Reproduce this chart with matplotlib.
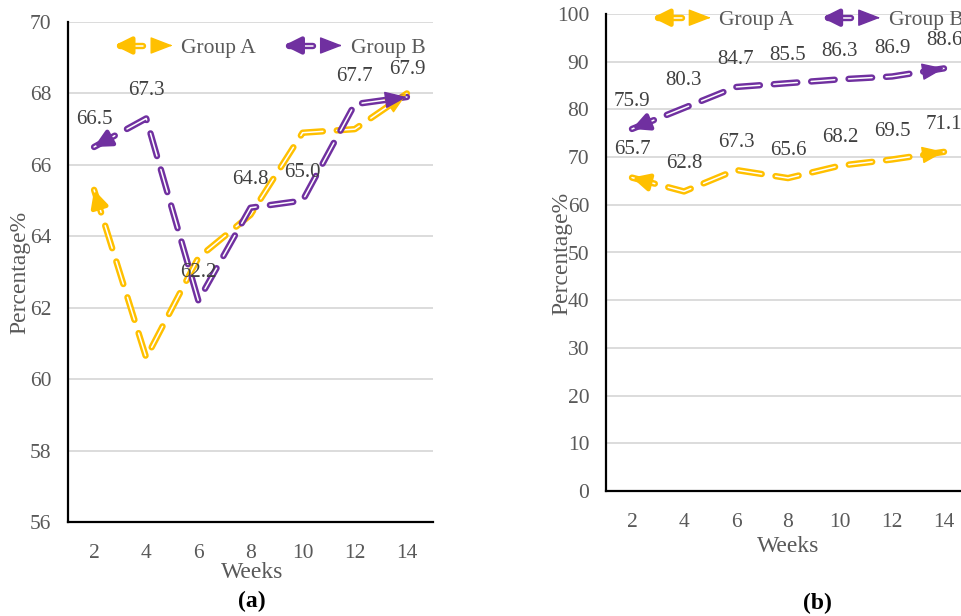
import numpy as np
import matplotlib
matplotlib.use("Agg")
import matplotlib.pyplot as plt
import matplotlib.patheffects as pe
from matplotlib.legend_handler import HandlerBase
from matplotlib.lines import Line2D
from matplotlib.patches import FancyArrowPatch

plt.rcParams["font.family"] = ["Liberation Serif", "DejaVu Serif"]
plt.rcParams["lines.scale_dashes"] = False

weeks = [2, 4, 6, 8, 10, 12, 14]

# panel (a)
a_group_a = [65.3, 60.6, 63.4, 64.6, 66.9, 67.0, 68.0]
a_group_b = [66.5, 67.3, 62.2, 64.8, 65.0, 67.7, 67.9]

# panel (b)
b_group_a = [65.7, 62.8, 67.3, 65.6, 68.2, 69.5, 71.1]
b_group_b = [75.9, 80.3, 84.7, 85.5, 86.3, 86.9, 88.6]

gold = "#FFC000"
purple = "#7030A0"
grey = "#595959"
lab_grey = "#404040"

DPI = 100
LW = 1.1
STROKE = 4.6
DASH = (17, 10)
START = "-|>,head_length=0.5,head_width=0.25"
END = "-|>,head_length=0.7,head_width=0.27"


def fx(color):
    return [pe.Stroke(linewidth=STROKE, foreground=color, capstyle="round"), pe.Normal()]


def draw_series(ax, x, y, color):
    ax.plot(x, y, color="white", lw=LW, dashes=DASH, dash_capstyle="round",
            solid_capstyle="round", path_effects=fx(color), zorder=3)
    pts = ax.transData.transform(np.column_stack([x, y]))
    # arrow head at first point, pointing away from the line
    d = pts[0] - pts[1]
    d = d / np.hypot(*d) * 72 / DPI
    ax.annotate("", xy=(x[0], y[0]), xytext=(-d[0] * 12, -d[1] * 12), textcoords="offset points",
                arrowprops=dict(arrowstyle=START, color=color, lw=3.2, shrinkA=0, shrinkB=0,
                                mutation_scale=20, capstyle="round"), zorder=4)
    # filled arrow head at last point
    d = pts[-1] - pts[-2]
    d = d / np.hypot(*d) * 72 / DPI
    ax.annotate("", xy=(x[-1], y[-1]), xytext=(-d[0] * 3, -d[1] * 3), textcoords="offset points",
                arrowprops=dict(arrowstyle=END, color=color, lw=1, shrinkA=0, shrinkB=0,
                                mutation_scale=20), zorder=4)


class ArrowHandler(HandlerBase):
    def create_artists(self, legend, orig_handle, xdescent, ydescent, width, height, fontsize, trans):
        c = orig_handle.get_color()
        x0 = -xdescent
        y = height / 2 - ydescent
        shaft = Line2D([x0 + 4, x0 + 0.5 * width], [y, y], color="white", lw=LW,
                       solid_capstyle="round", path_effects=fx(c), transform=trans)
        head1 = FancyArrowPatch((x0 + 8, y), (x0, y), arrowstyle=START,
                                color=c, lw=3.2, mutation_scale=20, shrinkA=0, shrinkB=0, transform=trans)
        head2 = FancyArrowPatch((x0 + width - 2, y), (x0 + width, y), arrowstyle=END,
                                color=c, lw=1, mutation_scale=20, shrinkA=0, shrinkB=0, transform=trans)
        return [shaft, head1, head2]


def style_axis(ax, ylim, yticks):
    ax.set_xlim(1, 15)
    ax.set_ylim(*ylim)
    ax.set_xticks(weeks)
    ax.set_yticks(yticks)
    ax.tick_params(length=0, labelsize=15.5, labelcolor=grey)
    ax.tick_params(axis="y", pad=12)
    ax.tick_params(axis="x", pad=16)
    ax.grid(axis="y", color="#D9D9D9", lw=1.3)
    ax.set_axisbelow(True)
    for s in ["top", "right"]:
        ax.spines[s].set_visible(False)
    for s in ["left", "bottom"]:
        ax.spines[s].set_linewidth(1.6)
        ax.spines[s].set_color("black")
        ax.spines[s].set_zorder(5)


def add_labels(ax, x, y):
    for xi, yi in zip(x, y):
        ax.annotate(f"{yi:.1f}", (xi, yi), xytext=(0, 20), textcoords="offset points",
                    ha="center", va="center", fontsize=15, color=lab_grey, zorder=6)


fig = plt.figure(figsize=(9.62, 6.16), dpi=DPI)
ax1 = fig.add_axes([68 / 962, 94 / 616, 365 / 962, 500 / 616])
ax2 = fig.add_axes([606 / 962, 125 / 616, 364 / 962, 477 / 616])

style_axis(ax1, (56, 70), np.arange(56, 71, 2))
style_axis(ax2, (0, 100), np.arange(0, 101, 10))

draw_series(ax1, weeks, a_group_a, gold)
draw_series(ax1, weeks, a_group_b, purple)
add_labels(ax1, weeks, a_group_b)

draw_series(ax2, weeks, b_group_a, gold)
draw_series(ax2, weeks, b_group_b, purple)
add_labels(ax2, weeks, b_group_a)
add_labels(ax2, weeks, b_group_b)

handles = [Line2D([], [], color=gold, label="Group A"), Line2D([], [], color=purple, label="Group B")]
for ax, anchor in [(ax1, (0.553, 0.948)), (ax2, (0.555, 0.987))]:
    ax.legend(handles=handles, handler_map={Line2D: ArrowHandler()}, loc="center",
              bbox_to_anchor=anchor, ncol=2, frameon=False, fontsize=15.5, labelcolor=grey,
              handlelength=2.7, handletextpad=0.4, columnspacing=1.3)

fig.text(20 / 962, 1 - 272 / 616, "Percentage%", rotation=90, ha="center", va="center",
         fontsize=17, color=grey)
fig.text(562 / 962, 1 - 253 / 616, "Percentage%", rotation=90, ha="center", va="center",
         fontsize=17, color=grey)
fig.text(252 / 962, 1 - 572 / 616, "Weeks", ha="center", va="center", fontsize=17, color=grey)
fig.text(788 / 962, 1 - 547 / 616, "Weeks", ha="center", va="center", fontsize=17, color=grey)
fig.text(252 / 962, 1 - 601 / 616, "(a)", ha="center", va="center", fontsize=17,
         fontweight="bold", color="black")
fig.text(817 / 962, 1 - 603 / 616, "(b)", ha="center", va="center", fontsize=17,
         fontweight="bold", color="black")

fig.savefig("out.png", dpi=DPI)
plt.close(fig)
